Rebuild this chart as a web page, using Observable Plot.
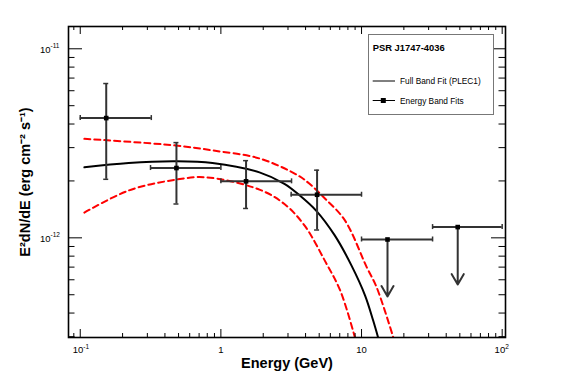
<!DOCTYPE html>
<html>
<head>
<meta charset="utf-8">
<script src="https://cdn.jsdelivr.net/npm/d3@7"></script>
<script src="https://cdn.jsdelivr.net/npm/@observablehq/plot@0.6"></script>
<style>
  body { margin: 0; background: #fff; }
  #wrap { position: relative; width: 567px; height: 384px; font-family: "Liberation Sans", Arial, sans-serif; }
  #legend { position: absolute; left: 0; top: 0; pointer-events: none; }
</style>
</head>
<body>
<div id="wrap"></div>
<script>
// ---- Energy band fits (detections) ----
const bandX    = [0.153, 0.483, 1.51, 4.83];
const bandXLo  = [0.1, 0.316, 1.0, 3.16];
const bandXHi  = [0.32, 1.0, 3.18, 10];
const bandY    = [4.3e-12, 2.34e-12, 1.99e-12, 1.69e-12];
const bandYLo  = [2.04e-12, 1.51e-12, 1.43e-12, 1.10e-12];
const bandYHi  = [6.55e-12, 3.19e-12, 2.56e-12, 2.28e-12];

// ---- Energy band upper limits ----
const ulX      = [15.3, 48.3];
const ulXLo    = [10, 32];
const ulXHi    = [32, 100];
const ulY      = [9.8e-13, 1.14e-12];
const ulTip    = [4.9e-13, 5.66e-13];

// ---- Full band fit (PLEC1) ----
const fitE     = [0.107, 0.221, 0.477, 0.871, 1.88, 2.83, 3.62, 4.77, 6.45, 8.49, 10.6, 12.1, 13.1];
const fitFlux  = [2.36e-12, 2.49e-12, 2.54e-12, 2.49e-12, 2.22e-12, 1.93e-12, 1.68e-12, 1.39e-12, 1.03e-12, 7.13e-13, 4.95e-13, 3.65e-13, 2.98e-13];

// ---- Upper / lower error contours (red dashed) ----
const upE      = [0.107, 0.477, 0.871, 1.88, 3.53, 4.27, 5.47, 7.6, 10.9, 12.8, 16.8];
const upFlux   = [3.34e-12, 3.08e-12, 2.90e-12, 2.63e-12, 2.14e-12, 1.93e-12, 1.62e-12, 1.24e-12, 6.98e-13, 5.48e-13, 2.98e-13];
const loE      = [0.107, 0.221, 0.477, 0.782, 1.88, 2.83, 3.94, 5.47, 7.1, 8.96];
const loFlux   = [1.36e-12, 1.78e-12, 2.03e-12, 2.09e-12, 1.80e-12, 1.51e-12, 1.16e-12, 7.6e-13, 5.2e-13, 2.98e-13];

// ---- Axes ----
const xMajor   = [0.1, 1, 10, 100];
const xMinor   = [0.09, 0.2, 0.3, 0.4, 0.5, 0.6, 0.7, 0.8, 0.9, 2, 3, 4, 5, 6, 7, 8, 9, 20, 30, 40, 50, 60, 70, 80, 90];
const xTickBase = ["10", "1", "10", "10"];
const xTickExp  = ["-1", "", "", "2"];
const yMajor   = [1e-12, 1e-11];
const yMinor   = [3e-13, 4e-13, 5e-13, 6e-13, 7e-13, 8e-13, 9e-13, 2e-12, 3e-12, 4e-12, 5e-12, 6e-12, 7e-12, 8e-12, 9e-12];
const yTickBase = ["10", "10"];
const yTickExp  = ["-12", "-11"];
const xDomain  = [0.0825, 105.6];
const yDomain  = [2.97e-13, 1.312e-11];

const xTitle = "Energy (GeV)";
const yTitle = "E\u00b2dN/dE (erg cm\u207b\u00b2 s\u207b\u00b9)";
const legendTitle = "PSR J1747-4036";
const legendLabels = ["Full Band Fit (PLEC1)", "Energy Band Fits"];

// ---- Build tables ----
const bands = bandX.map((x, i) => ({x, xlo: bandXLo[i], xhi: bandXHi[i], y: bandY[i], ylo: bandYLo[i], yhi: bandYHi[i]}));
const uls = ulX.map((x, i) => ({x, xlo: ulXLo[i], xhi: ulXHi[i], y: ulY[i], tip: ulTip[i]}));
const allPts = bands.concat(uls);
const fit = fitE.map((e, i) => ({e, f: fitFlux[i]}));
const up = upE.map((e, i) => ({e, f: upFlux[i]}));
const lo = loE.map((e, i) => ({e, f: loFlux[i]}));
const xLabels = xMajor.map((v, i) => ({v, base: xTickBase[i], exp: xTickExp[i]}));
const yLabels = yMajor.map((v, i) => ({v, base: yTickBase[i], exp: yTickExp[i]}));

const W = 567, H = 384, mL = 68, mR = 62, mT = 26, mB = 47;
const fw = W - mL - mR, fh = H - mT - mB;
const barColor = "#333";
const font = "Liberation Sans, Arial, sans-serif";

const chart = Plot.plot({
  width: W, height: H,
  marginLeft: mL, marginRight: mR, marginTop: mT, marginBottom: mB,
  style: {fontFamily: font, background: "white", overflow: "visible"},
  x: {type: "log", domain: xDomain, axis: null},
  y: {type: "log", domain: yDomain, axis: null},
  marks: [
    // curves
    Plot.line(up, {x: "e", y: "f", curve: "catmull-rom", stroke: "#ff0000", strokeWidth: 2, strokeDasharray: "6,4", clip: true}),
    Plot.line(lo, {x: "e", y: "f", curve: "catmull-rom", stroke: "#ff0000", strokeWidth: 2, strokeDasharray: "6,4", clip: true}),
    Plot.line(fit, {x: "e", y: "f", curve: "catmull-rom", stroke: "black", strokeWidth: 2, clip: true}),
    // horizontal error bars + caps
    Plot.ruleY(allPts, {y: "y", x1: "xlo", x2: "xhi", stroke: barColor, strokeWidth: 2}),
    Plot.ruleX(allPts, {x: "xlo", y1: "y", y2: "y", insetTop: -2.5, insetBottom: -2.5, stroke: barColor, strokeWidth: 1.5}),
    Plot.ruleX(allPts, {x: "xhi", y1: "y", y2: "y", insetTop: -2.5, insetBottom: -2.5, stroke: barColor, strokeWidth: 1.5}),
    // vertical error bars + caps
    Plot.ruleX(bands, {x: "x", y1: "ylo", y2: "yhi", stroke: barColor, strokeWidth: 2}),
    Plot.ruleY(bands, {y: "ylo", x1: "x", x2: "x", insetLeft: -2.5, insetRight: -2.5, stroke: barColor, strokeWidth: 1.5}),
    Plot.ruleY(bands, {y: "yhi", x1: "x", x2: "x", insetLeft: -2.5, insetRight: -2.5, stroke: barColor, strokeWidth: 1.5}),
    // upper-limit arrows
    Plot.arrow(uls, {x1: "x", y1: "y", x2: "x", y2: "tip", stroke: barColor, strokeWidth: 2, headLength: 9, headAngle: 60}),
    // markers
    Plot.dot(allPts, {x: "x", y: "y", symbol: "square", r: 2.6, fill: "black", stroke: "none"}),
    // ticks (inside frame, all four sides)
    Plot.ruleX(xMajor, {x: d => d, insetTop: fh - 8, stroke: "black"}),
    Plot.ruleX(xMajor, {x: d => d, insetBottom: fh - 8, stroke: "black"}),
    Plot.ruleX(xMinor, {x: d => d, insetTop: fh - 4, stroke: "black"}),
    Plot.ruleX(xMinor, {x: d => d, insetBottom: fh - 4, stroke: "black"}),
    Plot.ruleY(yMajor, {y: d => d, insetRight: fw - 14, stroke: "black"}),
    Plot.ruleY(yMajor, {y: d => d, insetLeft: fw - 14, stroke: "black"}),
    Plot.ruleY(yMinor, {y: d => d, insetRight: fw - 6.5, stroke: "black"}),
    Plot.ruleY(yMinor, {y: d => d, insetLeft: fw - 6.5, stroke: "black"}),
    Plot.frame({stroke: "black", strokeWidth: 1.6}),
    // x tick labels
    Plot.text(xLabels.filter(d => d.exp), {x: "v", text: "base", frameAnchor: "bottom", textAnchor: "end", dx: 3, dy: 15, fontSize: 9.5, fill: "black"}),
    Plot.text(xLabels.filter(d => d.exp), {x: "v", text: "exp", frameAnchor: "bottom", textAnchor: "start", dx: 3, dy: 11, fontSize: 6.5, fill: "black"}),
    Plot.text(xLabels.filter(d => !d.exp), {x: "v", text: "base", frameAnchor: "bottom", textAnchor: "middle", dy: 15, fontSize: 9.5, fill: "black"}),
    // y tick labels
    Plot.text(yLabels, {y: "v", text: "base", frameAnchor: "left", textAnchor: "end", dx: -18, dy: 1, fontSize: 9.5, fill: "black"}),
    Plot.text(yLabels, {y: "v", text: "exp", frameAnchor: "left", textAnchor: "start", dx: -18, dy: -3, fontSize: 6.5, fill: "black"}),
    // axis titles
    Plot.text([xTitle], {text: d => d, frameAnchor: "bottom", textAnchor: "middle", dy: 30.5, fontSize: 14.5, fontWeight: "bold", fill: "black"}),
    Plot.text([yTitle], {text: d => d, frameAnchor: "left", textAnchor: "middle", dx: -43, rotate: -90, fontSize: 14.5, fontWeight: "bold", fill: "black"})
  ]
});

const wrap = document.getElementById("wrap");
wrap.appendChild(chart);

// ---- Legend overlay ----
const lg = d3.select(wrap).append("svg").attr("id", "legend").attr("width", W).attr("height", H)
  .style("font-family", font);
lg.append("rect").attr("x", 368.5).attr("y", 34.5).attr("width", 125).attr("height", 80)
  .attr("fill", "white").attr("stroke", "#777").attr("stroke-width", 1);
lg.append("text").attr("x", 372.7).attr("y", 50.5).attr("font-size", 9.4).attr("font-weight", "bold").text(legendTitle);
lg.append("line").attr("x1", 372.7).attr("x2", 395).attr("y1", 81).attr("y2", 81).attr("stroke", "black");
lg.append("text").attr("x", 400).attr("y", 84).attr("font-size", 8.3).text(legendLabels[0]);
lg.append("line").attr("x1", 372.7).attr("x2", 395).attr("y1", 100.5).attr("y2", 100.5).attr("stroke", "black");
lg.append("rect").attr("x", 380.8).attr("y", 98).attr("width", 5).attr("height", 5).attr("fill", "black");
lg.append("text").attr("x", 400).attr("y", 103.5).attr("font-size", 8.3).text(legendLabels[1]);
</script>
</body>
</html>
